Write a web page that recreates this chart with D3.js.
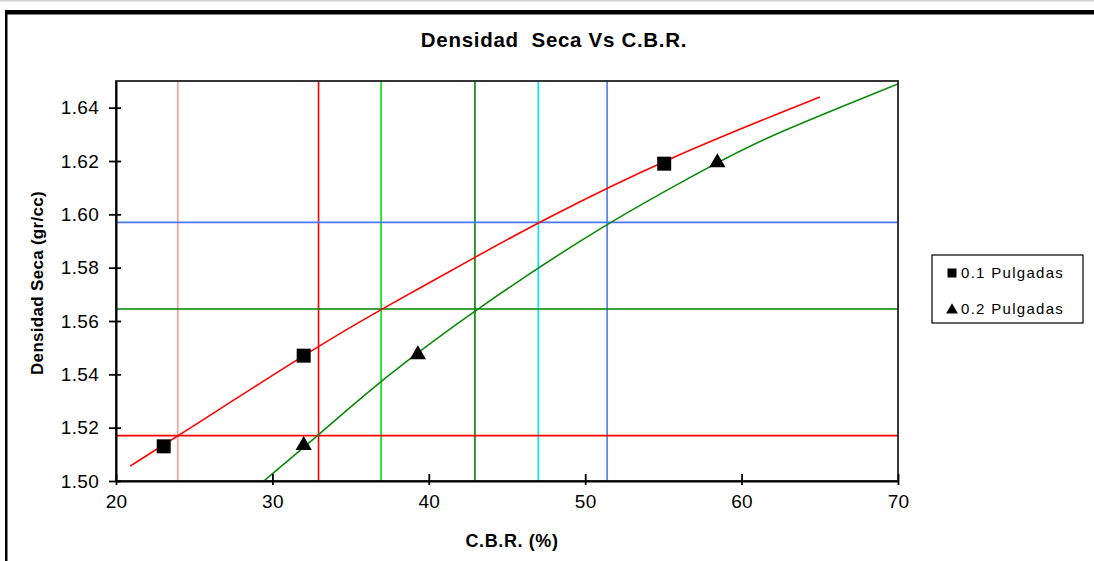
<!DOCTYPE html>
<html><head><meta charset="utf-8">
<script src="https://cdn.jsdelivr.net/npm/d3@7"></script>
<style>
body{margin:0;background:#fff;}
svg{display:block;font-family:"Liberation Sans",Arial,sans-serif;}
</style></head>
<body>
<svg id="c" width="1094" height="561"></svg>
<script>
// ---- data ----
const densidad = [1.513, 1.547, 1.619];
const cbr01 = [23.05, 32.0, 55.05];
const cbr02 = [32.0, 39.3, 58.45];
const seriesNames = ["0.1 Pulgadas", "0.2 Pulgadas"];

// trend curves
const redCurveX = [20.9, 24.0, 33.0, 37.0, 43.3, 47.0, 55.0, 65.0];
const redCurveY = [1.5056, 1.517, 1.551, 1.5645, 1.585, 1.597, 1.6205, 1.644];
const greenCurveX = [29.45, 32.9, 37.1, 43.0, 51.4, 58.4, 61.15, 70.0];
const greenCurveY = [1.500, 1.517, 1.5386, 1.5645, 1.597, 1.6192, 1.6279, 1.6489];

// reference (reading) lines
const vLines = [23.95, 32.95, 36.95, 42.95, 47.0, 51.4];
const hLines = [1.517, 1.5645, 1.597];
const vColors = ["#ff9a9a", "#ff0000", "#00e000", "#008000", "#00e8f0", "#4a78f0"];
const hColors = ["#ff0000", "#008000", "#4a78f0"];

const xTicks = [20, 30, 40, 50, 60, 70];
const yTicks = [1.50, 1.52, 1.54, 1.56, 1.58, 1.60, 1.62, 1.64];

// ---- layout ----
const svg = d3.select("#c");
const L = 116, R = 898, T = 81, B = 481;
const x = d3.scaleLinear().domain([20, 70]).range([L, R]);
const y = d3.scaleLinear().domain([1.50, 1.65]).range([B, T]);

// outer chart frame
svg.append("rect").attr("x", 0).attr("y", 0).attr("width", 1094).attr("height", 1.5).attr("fill", "#d0d0d0");
svg.append("rect").attr("x", 5).attr("y", 10).attr("width", 1089).attr("height", 4.5).attr("fill", "#000");
svg.append("rect").attr("x", 5).attr("y", 10).attr("width", 2.5).attr("height", 551).attr("fill", "#000");

// title
svg.append("text").attr("x", 554).attr("y", 47).attr("text-anchor", "middle")
  .attr("font-size", 20.5).attr("font-weight", "bold").attr("letter-spacing", 0.7)
  .attr("xml:space", "preserve").text("Densidad  Seca Vs C.B.R.");

const defs = svg.append("defs");
defs.append("clipPath").attr("id", "clip").append("rect")
  .attr("x", L).attr("y", T).attr("width", R - L).attr("height", B - T);

const plot = svg.append("g").attr("clip-path", "url(#clip)");

// reference lines
plot.selectAll("line.v").data(vLines).enter().append("line")
  .attr("x1", d => x(d)).attr("x2", d => x(d)).attr("y1", T).attr("y2", B)
  .attr("stroke", (d, i) => vColors[i]).attr("stroke-width", 1.6);
plot.selectAll("line.h").data(hLines).enter().append("line")
  .attr("x1", L).attr("x2", R).attr("y1", d => y(d)).attr("y2", d => y(d))
  .attr("stroke", (d, i) => hColors[i]).attr("stroke-width", 1.6);

// curves
const line = d3.line().x(d => x(d[0])).y(d => y(d[1])).curve(d3.curveBasis);
plot.append("path").datum(d3.zip(redCurveX, redCurveY)).attr("d", line)
  .attr("fill", "none").attr("stroke", "#ff0000").attr("stroke-width", 1.6);
plot.append("path").datum(d3.zip(greenCurveX, greenCurveY)).attr("d", line)
  .attr("fill", "none").attr("stroke", "#0a8a0a").attr("stroke-width", 1.6);

// plot frame
svg.append("rect").attr("x", L).attr("y", T).attr("width", R - L).attr("height", B - T)
  .attr("fill", "none").attr("stroke", "#222").attr("stroke-width", 1.8);

// axes
const xAxis = svg.append("g").attr("transform", `translate(0,${B})`)
  .call(d3.axisBottom(x).tickValues(xTicks).tickSizeInner(4).tickSizeOuter(0).tickPadding(10).tickFormat(d3.format("d")));
xAxis.selectAll(".tick line").attr("y1", -7).attr("y2", 4);
const yAxis = svg.append("g").attr("transform", `translate(${L},0)`)
  .call(d3.axisLeft(y).tickValues(yTicks).tickSizeInner(7).tickSizeOuter(0).tickPadding(10).tickFormat(d3.format(".2f")));
yAxis.selectAll(".tick line").attr("x1", -7).attr("x2", 5);
[xAxis, yAxis].forEach(a => {
  a.select(".domain").attr("stroke", "#000").attr("stroke-width", 2);
  a.selectAll(".tick line").attr("stroke", "#000").attr("stroke-width", 1.8);
  a.selectAll(".tick text").attr("font-size", 19).attr("fill", "#000")
    .attr("font-family", "'Liberation Sans',Arial,sans-serif").attr("letter-spacing", 0.3);
});

// axis titles
svg.append("text").attr("x", 512).attr("y", 547).attr("text-anchor", "middle")
  .attr("font-size", 18).attr("font-weight", "bold").attr("letter-spacing", 0.6).text("C.B.R. (%)");
svg.append("text").attr("transform", "translate(43,283) rotate(-90)").attr("text-anchor", "middle")
  .attr("font-size", 17).attr("font-weight", "bold").attr("letter-spacing", 0.3).text("Densidad Seca (gr/cc)");

// markers
const sq = d3.symbol().type(d3.symbolSquare).size(196);
const tri = d3.symbol().type(d3.symbolTriangle).size(115);
svg.selectAll("path.s1").data(d3.zip(cbr01, densidad)).enter().append("path")
  .attr("d", sq).attr("transform", d => `translate(${x(d[0])},${y(d[1])})`).attr("fill", "#000");
svg.selectAll("path.s2").data(d3.zip(cbr02, densidad)).enter().append("path")
  .attr("d", tri).attr("transform", d => `translate(${x(d[0])},${y(d[1]) - 1})`).attr("fill", "#000");

// legend
const lg = svg.append("g");
lg.append("rect").attr("x", 932).attr("y", 255).attr("width", 151).attr("height", 68)
  .attr("fill", "#fff").attr("stroke", "#000").attr("stroke-width", 1.2);
const lsq = d3.symbol().type(d3.symbolSquare).size(81);
const ltri = d3.symbol().type(d3.symbolTriangle).size(60);
lg.append("path").attr("d", lsq).attr("transform", "translate(952,273)").attr("fill", "#000");
lg.append("path").attr("d", ltri).attr("transform", "translate(952,310)").attr("fill", "#000");
seriesNames.forEach((n, i) => {
  lg.append("text").attr("x", 961).attr("y", 278 + i * 36).attr("font-size", 15)
    .attr("letter-spacing", 1.3).text(n);
});
</script>
</body></html>
